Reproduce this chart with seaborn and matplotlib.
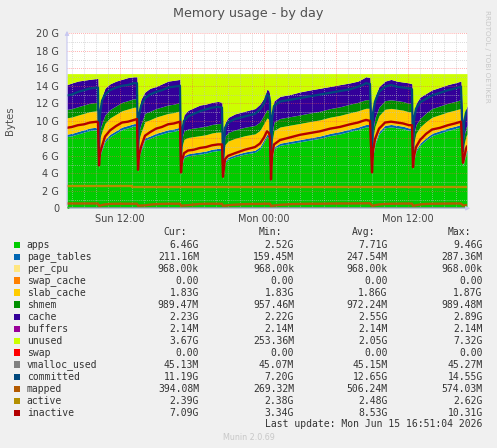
import numpy as np
import pandas as pd
import seaborn as sns
import matplotlib.pyplot as plt
from matplotlib.patches import Rectangle

# 5-minute steps since the graph start (Sun 07:36); the day graph holds 400 steps
step = [0, 5, 11, 17, 23, 30, 31, 32,
        33, 35, 38, 43, 49, 55, 61, 67, 70, 71,
        72, 74, 78, 83, 89, 95, 101, 107, 113, 114,
        115, 117, 121, 127, 133, 139, 145, 151, 155, 156,
        158, 161, 168, 178, 188, 193, 197, 200, 202, 203, 204,
        205, 207, 213, 223, 233, 243, 253, 263, 273, 283, 291, 296, 299, 303, 305,
        306, 308, 312, 318, 324, 330, 336, 342, 345, 346,
        347, 349, 353, 359, 365, 373, 381, 388, 394, 396, 397, 399, 400]

# stacked areas, in G
apps = [8.2, 8.3, 8.5, 8.7, 8.9, 9.0, 9.0, 4.5,
        6.0, 6.7, 7.6, 8.2, 8.6, 9.0, 9.2, 9.4, 9.4, 4.1,
        5.8, 6.6, 7.8, 8.0, 8.3, 8.5, 8.7, 8.8, 9.0, 3.8,
        5.0, 5.8, 6.0, 6.1, 6.2, 6.3, 6.5, 6.6, 6.6, 3.3,
        5.2, 5.6, 5.9, 6.2, 6.4, 6.8, 7.6, 8.2, 8.0, 7.5, 3.0,
        5.5, 6.8, 7.2, 7.4, 7.6, 7.8, 8.0, 8.3, 8.5, 8.8, 9.0, 9.2, 9.3, 9.3, 3.8,
        6.0, 7.3, 8.5, 9.2, 9.3, 9.2, 9.1, 8.9, 8.9, 4.4,
        5.5, 6.5, 7.2, 7.8, 8.3, 8.6, 8.9, 9.1, 9.3, 4.8, 5.3, 6.2, 6.46]
page_tables = [0.27, 0.27, 0.28, 0.28, 0.28, 0.28, 0.28, 0.16,
               0.20, 0.22, 0.25, 0.26, 0.27, 0.28, 0.28, 0.28, 0.28, 0.16,
               0.20, 0.22, 0.25, 0.26, 0.27, 0.27, 0.28, 0.28, 0.28, 0.16,
               0.20, 0.22, 0.23, 0.24, 0.24, 0.25, 0.25, 0.25, 0.25, 0.16,
               0.20, 0.22, 0.23, 0.24, 0.24, 0.25, 0.26, 0.27, 0.27, 0.26, 0.16,
               0.20, 0.23, 0.24, 0.25, 0.25, 0.26, 0.26, 0.26, 0.27, 0.27, 0.28, 0.28, 0.28, 0.28, 0.16,
               0.20, 0.23, 0.26, 0.28, 0.28, 0.28, 0.28, 0.28, 0.28, 0.16,
               0.20, 0.22, 0.24, 0.26, 0.27, 0.27, 0.28, 0.28, 0.28, 0.17, 0.18, 0.20, 0.21]
slab_cache = [1.87, 1.87, 1.87, 1.87, 1.87, 1.87, 1.87, 1.87,
              1.87, 1.87, 1.87, 1.87, 1.87, 1.87, 1.87, 1.87, 1.87, 1.87,
              1.86, 1.86, 1.86, 1.86, 1.86, 1.86, 1.86, 1.86, 1.86, 1.86,
              1.86, 1.86, 1.86, 1.86, 1.86, 1.86, 1.86, 1.86, 1.86, 1.86,
              1.86, 1.86, 1.86, 1.86, 1.86, 1.86, 1.86, 1.86, 1.86, 1.86, 1.86,
              1.85, 1.85, 1.85, 1.85, 1.85, 1.85, 1.85, 1.85, 1.85, 1.85, 1.85, 1.85, 1.85, 1.85, 1.85,
              1.84, 1.84, 1.84, 1.84, 1.84, 1.84, 1.84, 1.84, 1.84, 1.84,
              1.84, 1.84, 1.84, 1.84, 1.84, 1.84, 1.84, 1.84, 1.84, 1.83, 1.83, 1.83, 1.83]
shmem = [0.96, 0.96, 0.96, 0.96, 0.96, 0.96, 0.96, 0.96,
         0.96, 0.96, 0.96, 0.96, 0.96, 0.96, 0.96, 0.96, 0.96, 0.96,
         0.96, 0.96, 0.96, 0.96, 0.96, 0.96, 0.96, 0.96, 0.96, 0.96,
         0.97, 0.97, 0.97, 0.97, 0.97, 0.97, 0.97, 0.97, 0.97, 0.97,
         0.97, 0.97, 0.97, 0.97, 0.97, 0.97, 0.97, 0.97, 0.97, 0.97, 0.97,
         0.97, 0.97, 0.97, 0.97, 0.97, 0.98, 0.98, 0.98, 0.98, 0.98, 0.98, 0.98, 0.98, 0.98, 0.98,
         0.98, 0.98, 0.98, 0.98, 0.98, 0.98, 0.98, 0.98, 0.98, 0.98,
         0.99, 0.99, 0.99, 0.99, 0.99, 0.99, 0.99, 0.99, 0.99, 0.99, 0.99, 0.99, 0.99]
cache = [2.83, 2.93, 2.93, 2.83, 2.73, 2.73, 2.73, 2.22,
         2.73, 3.05, 3.05, 2.93, 2.83, 2.63, 2.63, 2.53, 2.53, 2.22,
         2.63, 2.83, 2.43, 2.63, 2.53, 2.63, 2.73, 2.73, 2.63, 2.22,
         1.43, 1.83, 2.13, 2.33, 2.53, 2.53, 2.53, 2.53, 2.43, 2.22,
         1.53, 1.73, 1.83, 1.83, 1.93, 2.03, 1.93, 2.33, 2.33, 2.23, 2.22,
         2.43, 2.43, 2.53, 2.53, 2.63, 2.63, 2.63, 2.53, 2.53, 2.43, 2.43, 2.53, 2.63, 2.53, 2.22,
         2.43, 2.43, 2.33, 2.23, 2.33, 2.23, 2.23, 2.33, 2.23, 2.22,
         2.23, 2.43, 2.43, 2.23, 2.13, 2.13, 2.13, 2.13, 2.13, 2.22, 1.93, 2.13, 2.23]
per_cpu = 0.00092
swap_cache = 0.0
buffers = 0.002
swap = 0.0
mem_total = 15.39

# line series, in G
committed = [12.9, 13.0, 13.3, 13.5, 13.7, 13.8, 13.8, 6.0,
             10.8, 12.3, 13.0, 13.5, 13.8, 14.0, 14.1, 14.3, 14.3, 5.8,
             10.6, 11.7, 12.6, 13.0, 13.3, 13.5, 13.8, 13.9, 14.0, 5.5,
             8.8, 10.0, 10.5, 10.8, 11.1, 11.3, 11.5, 11.6, 11.5, 5.2,
             9.2, 9.8, 10.2, 10.5, 10.8, 11.3, 12.0, 13.0, 12.8, 12.2, 5.0,
             10.3, 11.7, 12.2, 12.4, 12.6, 12.8, 13.0, 13.2, 13.4, 13.6, 13.9, 14.1, 14.3, 14.2, 5.5,
             10.9, 12.2, 13.3, 13.9, 14.1, 13.9, 13.8, 13.7, 13.6, 6.0,
             10.2, 11.4, 12.1, 12.5, 12.9, 13.2, 13.5, 13.7, 13.9, 6.5, 9.8, 10.9, 11.19]
inactive = [9.2, 9.3, 9.5, 9.6, 9.8, 9.9, 9.8, 4.9,
            6.3, 7.1, 8.2, 8.9, 9.4, 9.8, 9.9, 10.1, 10.2, 4.4,
            6.0, 7.0, 8.3, 8.7, 9.1, 9.3, 9.6, 9.7, 9.9, 4.1,
            5.4, 6.3, 6.6, 6.7, 6.9, 7.0, 7.2, 7.3, 7.3, 3.6,
            5.6, 6.0, 6.3, 6.7, 7.0, 7.4, 8.1, 8.8, 8.6, 8.0, 3.3,
            6.0, 7.3, 7.8, 8.1, 8.4, 8.6, 8.8, 9.1, 9.3, 9.6, 9.8, 10.0, 10.1, 10.0, 4.1,
            6.5, 7.9, 9.1, 9.8, 9.9, 9.8, 9.7, 9.5, 9.5, 4.7,
            5.9, 7.0, 7.8, 8.5, 9.0, 9.2, 9.5, 9.7, 9.9, 5.2, 5.7, 6.8, 7.09]
mapped = [0.55, 0.55, 0.55, 0.55, 0.55, 0.55, 0.55, 0.30,
          0.30, 0.38, 0.45, 0.50, 0.52, 0.52, 0.52, 0.52, 0.52, 0.30,
          0.30, 0.32, 0.34, 0.42, 0.48, 0.50, 0.52, 0.52, 0.52, 0.30,
          0.30, 0.33, 0.36, 0.44, 0.50, 0.52, 0.52, 0.52, 0.52, 0.30,
          0.30, 0.35, 0.42, 0.48, 0.50, 0.50, 0.52, 0.52, 0.52, 0.52, 0.28,
          0.28, 0.32, 0.40, 0.47, 0.50, 0.52, 0.52, 0.54, 0.55, 0.55, 0.56, 0.56, 0.57, 0.57, 0.30,
          0.30, 0.36, 0.44, 0.50, 0.52, 0.53, 0.54, 0.54, 0.54, 0.30,
          0.30, 0.36, 0.44, 0.50, 0.52, 0.53, 0.54, 0.55, 0.55, 0.32, 0.33, 0.37, 0.39]
active_step = [0, 65, 74, 304, 400]
active = [2.60, 2.38, 2.48, 2.39, 2.39]
vmalloc_step = [0, 200, 400]
vmalloc_used = [0.0451, 0.0453, 0.0451]

# legend table
names = ['apps', 'page_tables', 'per_cpu', 'swap_cache', 'slab_cache', 'shmem', 'cache',
         'buffers', 'unused', 'swap', 'vmalloc_used', 'committed', 'mapped', 'active', 'inactive']
colors = ['#00CC00', '#0066B3', '#FFE680', '#FF8000', '#FFCC00', '#008F00', '#330099',
          '#990099', '#CCFF00', '#FF0000', '#808080', '#00487D', '#B35A00', '#B38F00', '#B30000']
cur = ['6.46G', '211.16M', '968.00k', '0.00', '1.83G', '989.47M', '2.23G', '2.14M', '3.67G',
       '0.00', '45.13M', '11.19G', '394.08M', '2.39G', '7.09G']
vmin = ['2.52G', '159.45M', '968.00k', '0.00', '1.83G', '957.46M', '2.22G', '2.14M', '253.36M',
        '0.00', '45.07M', '7.20G', '269.32M', '2.38G', '3.34G']
vavg = ['7.71G', '247.54M', '968.00k', '0.00', '1.86G', '972.24M', '2.55G', '2.14M', '2.05G',
        '0.00', '45.15M', '12.65G', '506.24M', '2.48G', '8.53G']
vmax = ['9.46G', '287.36M', '968.00k', '0.00', '1.87G', '989.48M', '2.89G', '2.14M', '7.32G',
        '0.00', '45.27M', '14.55G', '574.03M', '2.62G', '10.31G']

start_hour = 7.61  # Sun 07:36, hours since Sun 00:00
t = start_hour + np.array(step) / 12.0
n = len(t)
lower = [np.array(apps), np.array(page_tables), np.full(n, per_cpu), np.full(n, swap_cache),
         np.array(slab_cache), np.array(shmem), np.array(cache), np.full(n, buffers)]
unused = mem_total - np.sum(lower, axis=0)
layers = lower + [unused, np.full(n, swap)]

sns.set_style('white')
plt.rcParams['font.family'] = ['DejaVu Sans']

W, H = 497, 448
fig = plt.figure(figsize=(W / 100, H / 100), dpi=100, facecolor='#f0f0f0')
ax = fig.add_axes([67 / W, 1 - 208.3 / H, 400 / W, 175 / H])
ax.set_facecolor('white')

ax.stackplot(t, *layers, colors=colors[:10], linewidth=0, zorder=1)

lines = pd.DataFrame({'t': t, 'committed': committed, 'mapped': mapped, 'inactive': inactive})
act = pd.DataFrame({'t': start_hour + np.array(active_step) / 12.0, 'active': active})
vm = pd.DataFrame({'t': start_hour + np.array(vmalloc_step) / 12.0, 'vmalloc_used': vmalloc_used})
sns.lineplot(data=vm, x='t', y='vmalloc_used', ax=ax, color=colors[10], lw=1.0, zorder=3)
sns.lineplot(data=lines, x='t', y='committed', ax=ax, color=colors[11], lw=1.6, zorder=3)
sns.lineplot(data=lines, x='t', y='mapped', ax=ax, color=colors[12], lw=1.7, zorder=3)
sns.lineplot(data=act, x='t', y='active', ax=ax, color=colors[13], lw=1.7,
             drawstyle='steps-post', zorder=3)
sns.lineplot(data=lines, x='t', y='inactive', ax=ax, color=colors[14], lw=1.7, zorder=3)

ax.set_xlim(start_hour, start_hour + 400 / 12.0)
ax.set_ylim(0, 20)
ax.set_xlabel('')
ax.set_ylabel('')

# grid drawn over the graph like rrdtool
ax.set_yticks(range(0, 21, 2))
ax.set_yticks(range(0, 21, 1), minor=True)
ax.set_yticklabels(['0'] + ['%d G' % v for v in range(2, 21, 2)])
ax.set_xticks([12, 18, 24, 30, 36])
ax.set_xticklabels(['Sun 12:00', '', 'Mon 00:00', '', 'Mon 12:00'])
ax.set_xticks(np.arange(8, 41, 1), minor=True)
ax.set_axisbelow(False)
ax.grid(which='minor', color='#c0c0c0', alpha=0.7, lw=0.7, linestyle=(0, (0.8, 1.2)))
ax.grid(which='major', color='#ff5050', alpha=0.55, lw=0.7, linestyle=(0, (0.8, 1.2)))
ax.tick_params(which='both', labelsize=7, colors='#c8c8c8',
               direction='out', length=2, width=0.6)
ax.tick_params(axis='y', which='major', pad=3.7)
ax.tick_params(axis='x', which='major', pad=1.8)
for lab in ax.get_xticklabels() + ax.get_yticklabels():
    lab.set_color('#444444')

for s in ax.spines.values():
    s.set_visible(False)
ax.annotate('', xy=(0, 1.03), xytext=(0, 0), xycoords='axes fraction',
            arrowprops=dict(arrowstyle='-|>', color='#c8c8f0', lw=0.8, mutation_scale=6),
            annotation_clip=False)
ax.annotate('', xy=(1.015, 0), xytext=(0, 0), xycoords='axes fraction',
            arrowprops=dict(arrowstyle='-|>', color='#c8c8f0', lw=0.8, mutation_scale=6),
            annotation_clip=False)

def fx(x):
    return x / W

def fy(y):
    return 1 - y / H

fig.text(0.5, fy(13.5), 'Memory usage - by day', ha='center', va='center', fontsize=9.2,
         color='#505050')
fig.text(fx(10.5), fy(120.8), 'Bytes', ha='center', va='center', rotation=90, fontsize=7.3,
         color='#505050')
fig.text(fx(487), fy(56), 'RRDTOOL / TOBI OETIKER', ha='center', va='center', rotation=270,
         fontsize=5.2, color='#c8c8c8')

mono = 'DejaVu Sans Mono'
cols = [199, 294, 387.7, 482.7]
for x, head in zip(cols, ['Cur:', 'Min:', 'Avg:', 'Max:']):
    fig.text(fx(x - 12), fy(232), head, ha='right', va='center', family=mono, fontsize=7,
             color='#333333')
for i, name in enumerate(names):
    y = 245 + 12 * i
    fig.add_artist(Rectangle((fx(13.5), fy(y + 3.3)), 6.8 / W, 6.8 / H, transform=fig.transFigure,
                             facecolor=colors[i], edgecolor='none'))
    fig.text(fx(26.7), fy(y), name, ha='left', va='center', family=mono, fontsize=7,
             color='#333333')
    for x, vals in zip(cols, [cur, vmin, vavg, vmax]):
        fig.text(fx(x), fy(y), vals[i], ha='right', va='center', family=mono, fontsize=7,
                 color='#333333')
fig.text(fx(482.7), fy(424.3), 'Last update: Mon Jun 15 16:51:04 2026', ha='right', va='center',
         family=mono, fontsize=7, color='#333333')
fig.text(fx(249), fy(437), 'Munin 2.0.69', ha='center', va='center', fontsize=5.8,
         color='#c8c8c8')

fig.savefig('out.png', dpi=100, facecolor=fig.get_facecolor())
